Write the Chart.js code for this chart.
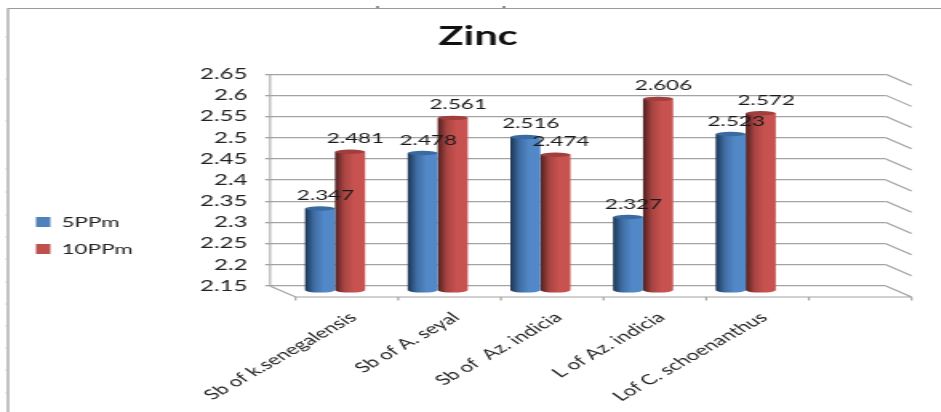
<!DOCTYPE html>
<html>
<head>
<meta charset="utf-8">
<title>Zinc</title>
<style>
  html, body { margin: 0; padding: 0; width: 941px; height: 412px; overflow: hidden; background: #fff; }
  #stage { position: absolute; left: 0; top: 0; width: 588px; height: 412px; transform: scaleX(1.6); transform-origin: 0 0; }
</style>
<script src="https://cdn.jsdelivr.net/npm/chart.js@4"></script>
</head>
<body>
<div id="stage"><canvas id="chart" width="588" height="412"></canvas></div>
<script>
// Zinc content per sample
const categories = ['Sb of k.senegalensis', 'Sb of A. seyal', 'Sb of  Az. indicia', 'L of Az. indicia', 'Lof C. schoenanthus', ''];
const series5 = [2.347, 2.478, 2.516, 2.327, 2.523, null];
const series10 = [2.481, 2.561, 2.474, 2.606, 2.572, null];
const seriesNames = ['5PPm', '10PPm'];
const yMin = 2.15;
const yMax = 2.65;
const yStep = 0.05;

const FONT = 'Lato, "Liberation Sans", sans-serif';
const GRID = '#a3a3a3';
const WALL = '#c4c4c4';

// Depth of the box: the floor front sits this far from the back wall
const DEPTH_X = 16;
const DEPTH_Y = 11;
// Columns stand part-way into that depth
const BAR_DX = 8.6;
const BAR_DY = 6;

const shades = {
  '#4f81bd': { dark: '#1c3553', mid: '#3f6da3', light: '#5288c8', cap: '#3a6aa2' },
  '#c0504d': { dark: '#4f1f1e', mid: '#a84543', light: '#c8524f', cap: '#a03f3d' }
};

// Columns are drawn as cylinders from the geometry the bar element already holds
Chart.BarElement.prototype.draw = function (ctx) {
  const { x, y, base, width } = this.getProps(['x', 'y', 'base', 'width'], true);
  const s = shades[this.options.backgroundColor];
  if (!s || y == null || isNaN(y)) return;
  const l = x - width / 2, r = x + width / 2, rx = width / 2, ry = 2.2;
  const g = ctx.createLinearGradient(l, 0, r, 0);
  g.addColorStop(0, s.dark);
  g.addColorStop(0.3, s.mid);
  g.addColorStop(0.62, s.light);
  g.addColorStop(1, s.light);
  ctx.save();
  ctx.fillStyle = g;
  ctx.beginPath();
  ctx.moveTo(l, y);
  ctx.lineTo(l, base - 1);
  ctx.ellipse(x, base - 1, rx, ry, 0, Math.PI, 0, true);
  ctx.lineTo(r, y);
  ctx.closePath();
  ctx.fill();
  ctx.fillStyle = s.cap;
  ctx.beginPath();
  ctx.ellipse(x, y, rx, ry, 0, 0, Math.PI * 2);
  ctx.fill();
  ctx.restore();
};

const boxPlugin = {
  id: 'box',
  beforeDraw(chart) {
    const { ctx, width, chartArea: a, scales } = chart;
    ctx.save();
    ctx.fillStyle = '#fff';
    ctx.fillRect(0, 0, width, chart.height);

    // Outer sheet border with its small margin marks
    ctx.strokeStyle = '#9a9a9a';
    ctx.lineWidth = 1.2;
    ctx.beginPath();
    ctx.moveTo(5, 412);
    ctx.lineTo(5, 8.5);
    ctx.lineTo(width, 8.5);
    ctx.stroke();
    ctx.strokeStyle = '#bdbdbd';
    ctx.lineWidth = 1;
    ctx.beginPath();
    [37, 79, 121, 169, 192, 215, 237, 259, 282, 304, 326, 348, 370, 393].forEach(m => {
      ctx.moveTo(3.5, m);
      ctx.lineTo(5, m);
    });
    ctx.stroke();
    ctx.fillStyle = '#222';
    ctx.fillRect(235, 6.5, 2, 1);
    ctx.fillRect(314, 6.5, 2, 1);

    // Side wall on the left
    ctx.strokeStyle = WALL;
    ctx.lineWidth = 1.6;
    ctx.beginPath();
    ctx.moveTo(a.left, a.top);
    ctx.lineTo(a.left, a.bottom);
    ctx.stroke();

    // Receding lines on the right, one per gridline
    ctx.strokeStyle = GRID;
    ctx.lineWidth = 1.2;
    ctx.beginPath();
    scales.y.ticks.forEach(t => {
      const py = scales.y.getPixelForValue(t.value);
      ctx.moveTo(a.right, py);
      ctx.lineTo(a.right + DEPTH_X, py + DEPTH_Y);
    });
    // Floor edge, front axis line and its category ticks
    const fy = a.bottom + DEPTH_Y;
    ctx.moveTo(a.left, a.bottom);
    ctx.lineTo(a.left + DEPTH_X, fy);
    ctx.lineTo(a.right + DEPTH_X, fy);
    const step = (a.right - a.left) / categories.length;
    for (let i = 0; i <= categories.length; i++) {
      const tx = a.left + DEPTH_X + step * i;
      ctx.moveTo(tx, fy);
      ctx.lineTo(tx, fy + 3.5);
    }
    ctx.stroke();
    ctx.restore();
  },
  beforeDatasetsDraw(chart) {
    chart.ctx.save();
    chart.ctx.translate(BAR_DX, BAR_DY);
  },
  afterDatasetsDraw(chart) {
    const ctx = chart.ctx;
    ctx.restore();
    // Value labels above each column
    ctx.save();
    ctx.font = '14px ' + FONT;
    ctx.fillStyle = '#1a1a1a';
    ctx.textAlign = 'center';
    ctx.textBaseline = 'middle';
    chart.data.datasets.forEach((ds, d) => {
      chart.getDatasetMeta(d).data.forEach((el, i) => {
        if (ds.data[i] == null) return;
        const p = el.getProps(['x', 'y'], true);
        ctx.fillText(ds.data[i].toFixed(3), p.x + BAR_DX + 3.4, p.y + BAR_DY - 13);
      });
    });
    ctx.restore();
  },
  afterLayout(chart) {
    // Legend sits low in the left margin, title a little right of centre
    const lg = chart.legend;
    lg.left = 9.5; lg.right = 120; lg.top = 202; lg.bottom = 320;
    const tt = chart.titleBlock;
    if (tt) { tt.left += 22; tt.right += 22; }
  }
};

new Chart(document.getElementById('chart'), {
  type: 'bar',
  data: {
    labels: categories,
    datasets: [
      { label: seriesNames[0], data: series5, base: yMin, backgroundColor: '#4f81bd', borderWidth: 0, clip: false },
      { label: seriesNames[1], data: series10, base: yMin, backgroundColor: '#c0504d', borderWidth: 0, clip: false }
    ]
  },
  options: {
    responsive: false,
    animation: false,
    devicePixelRatio: 1,
    layout: { padding: { left: 0, top: 0, right: 34.25, bottom: 0 } },
    datasets: { bar: { categoryPercentage: 0.585, barPercentage: 1 } },
    scales: {
      x: {
        grid: { display: false },
        border: { display: false },
        ticks: {
          autoSkip: false, minRotation: 42, maxRotation: 42,
          padding: 15, labelOffset: 20, color: '#222', font: { family: FONT, size: 14 }
        },
        afterFit(s) { s.height = 126; }
      },
      y: {
        min: yMin, max: yMax,
        grid: { color: GRID, lineWidth: 1.3, tickLength: 3, drawTicks: true },
        border: { display: false },
        ticks: {
          stepSize: yStep, padding: 11, color: '#222', font: { family: FONT, size: 15 },
          callback: v => String(+v.toFixed(2))
        },
        afterFit(s) { s.width = 168.75; }
      }
    },
    plugins: {
      title: {
        display: true, text: 'Zinc', color: '#111',
        font: { family: FONT, size: 26, weight: 'bold' },
        padding: { top: 21, bottom: 22 }
      },
      legend: {
        position: 'chartArea', align: 'start',
        labels: { boxWidth: 9, boxHeight: 10, padding: 13, color: '#222', font: { family: FONT, size: 14 } }
      },
      tooltip: { enabled: false }
    }
  },
  plugins: [boxPlugin]
});
</script>
</body>
</html>
